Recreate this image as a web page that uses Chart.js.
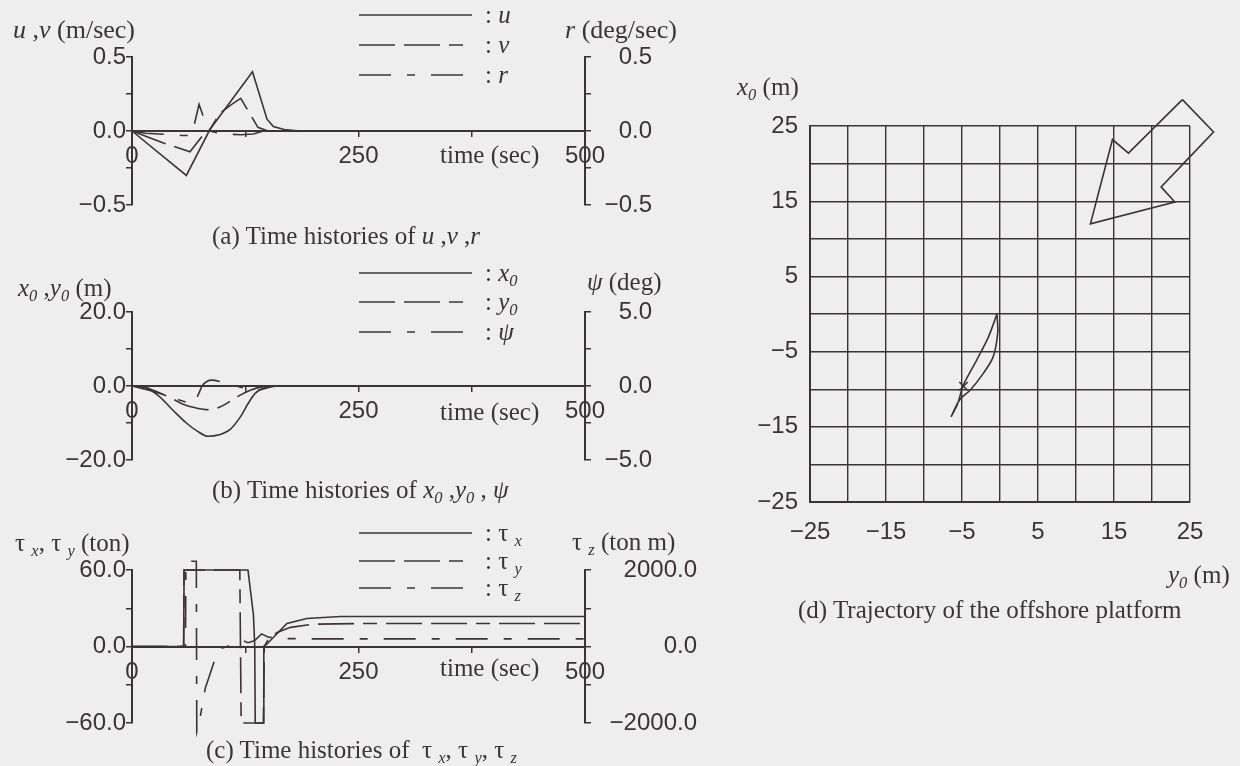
<!DOCTYPE html>
<html>
<head>
<meta charset="utf-8">
<script src="https://cdn.jsdelivr.net/npm/chart.js@4.4.1/dist/chart.umd.min.js"></script>
<style>
  html, body { margin: 0; padding: 0; background: #eeeeee; }
  body { width: 1240px; height: 766px; position: relative; overflow: hidden;
         font-family: "Liberation Serif", serif; color: #3b3437; }
  canvas { position: absolute; left: 0; }
  .t { position: absolute; white-space: nowrap; font-size: 25px; line-height: 1; }
  .t sub { font-size: 66%; vertical-align: -0.28em; line-height: 0; }
</style>
</head>
<body>
<canvas id="chartA" width="720" height="250" style="top:0"></canvas>
<canvas id="chartB" width="720" height="255" style="top:250px"></canvas>
<canvas id="chartC" width="720" height="261" style="top:505px"></canvas>
<canvas id="chartD" width="520" height="766" style="left:720px;top:0"></canvas>

<!-- (a) -->
<div class="t" style="left:13px;top:17px;font-size:26px"><i>u</i> ,<i>v</i> (m/sec)</div>
<div class="t" style="left:565px;top:17px;font-size:26px"><i>r</i> (deg/sec)</div>
<div class="t" style="left:485px;top:2px">: <i>u</i></div>
<div class="t" style="left:485px;top:32px">: <i>v</i></div>
<div class="t" style="left:485px;top:62px">: <i>r</i></div>
<div class="t" style="left:440px;top:142px">time (sec)</div>
<div class="t" style="left:212px;top:223px">(a) Time histories of <i>u</i> ,<i>v</i> ,<i>r</i></div>

<!-- (b) -->
<div class="t" style="left:18px;top:275px"><i>x<sub>0</sub></i> ,<i>y<sub>0</sub></i> (m)</div>
<div class="t" style="left:587px;top:269px"><i>ψ</i> (deg)</div>
<div class="t" style="left:485px;top:260px">: <i>x<sub>0</sub></i></div>
<div class="t" style="left:485px;top:289px">: <i>y<sub>0</sub></i></div>
<div class="t" style="left:485px;top:319px">: <i>ψ</i></div>
<div class="t" style="left:440px;top:399px">time (sec)</div>
<div class="t" style="left:212px;top:477px">(b) Time histories of <i>x<sub>0</sub></i> ,<i>y<sub>0</sub></i> , <i>ψ</i></div>

<!-- (c) -->
<div class="t" style="left:15px;top:530px">τ <sub><i>x</i></sub>, τ <sub><i>y</i></sub> (ton)</div>
<div class="t" style="left:572px;top:529px">τ <sub><i>z</i></sub> (ton m)</div>
<div class="t" style="left:485px;top:520px">: τ <sub><i>x</i></sub></div>
<div class="t" style="left:485px;top:548px">: τ <sub><i>y</i></sub></div>
<div class="t" style="left:485px;top:575px">: τ <sub><i>z</i></sub></div>
<div class="t" style="left:440px;top:655px">time (sec)</div>
<div class="t" style="left:206px;top:737px">(c) Time histories of&nbsp; τ <sub><i>x</i></sub>, τ <sub><i>y</i></sub>, τ <sub><i>z</i></sub></div>

<!-- (d) -->
<div class="t" style="left:737px;top:74px"><i>x<sub>0</sub></i> (m)</div>
<div class="t" style="left:1168px;top:562px"><i>y<sub>0</sub></i> (m)</div>
<div class="t" style="left:798px;top:597px">(d) Trajectory of the offshore platform</div>

<script>
// time histories: [time (sec), value]
const uSeries   = [[0,0],[60,-0.30],[86,0.01],[133,0.40],[149,0.08],[156,0.03],[168,0.01],[185,0],[500,0]];
const vSeries   = [[0,0],[34,-0.08],[64,-0.14],[78,-0.03],[86,0.01],[97,0.12],[110,0.18],[120,0.22],[139,0.025],[150,0],[500,0]];
const rSeries   = [[0,0],[15,-0.015],[30,-0.02],[55,-0.03],[66,-0.03],[74,0.18],[78,0.11],[86,0],[100,-0.02],[120,-0.025],[134,-0.02],[145,0],[500,0]];

const x0Series  = [[0,0],[15,-0.5],[30,-2.8],[45,-6.5],[60,-10],[72,-12.2],[84,-13.6],[96,-13.2],[108,-11.8],[120,-8.2],[128,-4.8],[136,-2.0],[146,-0.5],[160,0],[500,0]];
const y0Series  = [[0,0],[15,-0.4],[30,-1.8],[45,-3.5],[57,-5.0],[70,-5.9],[84,-6.4],[97,-5.7],[108,-4.2],[120,-2.4],[130,-1.2],[142,-0.3],[160,0],[500,0]];
const psiSeries = [[0,0],[20,-0.3],[36,-0.6],[55,-1.0],[68,-1.2],[73,-0.6],[78,0.05],[88,0.4],[100,0.25],[112,0.05],[124,-0.15],[134,-0.35],[145,-0.2],[160,0],[500,0]];

const tauXSeries = [[0,0],[57,0],[57.5,60],[128,60],[134,25],[135.5,0],[136,-60],[145,-60],[145.5,0],[149,2],[160,10],[171,18],[193,22],[230,23.5],[500,23.5]];
const tauYSeries = [[0,0],[57,0],[57.5,60],[119,60],[120.5,-60],[145,-60],[146,0],[150,5],[160,11],[175,15],[200,17.5],[250,18],[500,18]];
const tauZSeries = [[0,0],[59,0],[59.5,2230],[71,2230],[71.5,-2230],[73,-2100],[75,-1880],[81,-1080],[86,-730],[92,-300],[97,-60],[105,0],[115,80],[122,160],[128,100],[135,150],[143,330],[150,250],[160,210],[200,200],[500,200]];

// trajectory: [y0 (m), x0 (m)]
const trackPath = [[-0.4,0],[-0.3,-2.5],[-0.9,-5.7],[-2.2,-7.9],[-3.9,-10.1],[-5.3,-11.4],[-6.4,-13.6],[-5.6,-12.0],[-4.8,-9.4],[-3.0,-6.0],[-1.5,-3.0],[-0.4,0]];
const finalMark = [[-4.8,-9.6]];
const platformOutline = [[24.0,28.5],[28.1,24.2],[24.6,20.5],[21.2,16.9],[23.0,14.9],[11.9,12.0],[14.8,23.2],[16.9,21.4],[24.0,28.5]];

const timeTicks = [0, 250, 500];
const trajTicks = [-25, -15, -5, 5, 15, 25];

const INK = '#3b3437';
const SANS = { family: 'Liberation Sans', size: 24 };
const DASH_V = [36, 9, 36, 9, 14, 9];
const DASH_R = [32, 16, 8, 16];

const pts = arr => arr.map(([x, y]) => ({ x, y }));
const num = (v, d) => (v < 0 ? '\u2212' : '') + Math.abs(v).toFixed(d);

// legend line samples next to the html labels
const legendSamples = {
  id: 'legendSamples',
  afterDraw(chart, args, opts) {
    const ctx = chart.ctx;
    ctx.save();
    ctx.strokeStyle = INK;
    ctx.lineWidth = 1.6;
    opts.rows.forEach(row => {
      ctx.setLineDash(row.dash);
      ctx.beginPath();
      ctx.moveTo(359, row.y);
      ctx.lineTo(472, row.y);
      ctx.stroke();
    });
    ctx.restore();
  }
};

function line(series, dash, axis, smooth) {
  return {
    data: pts(series),
    yAxisID: axis,
    showLine: true,
    borderColor: INK,
    borderWidth: 1.6,
    borderDash: dash,
    pointRadius: 0,
    clip: false,
    tension: 0,
    cubicInterpolationMode: smooth ? 'monotone' : 'default'
  };
}

// plot area spans x 132..585 on every time-history canvas;
// the right scale box ends where its labels are right-aligned
function timeChart(id, o) {
  const tickOpts = { font: SANS, color: INK, autoSkip: false };
  return new Chart(document.getElementById(id), {
    type: 'scatter',
    data: { datasets: o.datasets },
    options: {
      responsive: false,
      animation: false,
      layout: { padding: { left: 0, right: 135 - o.rightW, top: o.top, bottom: o.bottom }, autoPadding: false },
      plugins: {
        legend: { display: false },
        tooltip: { enabled: false },
        legendSamples: { rows: o.legendRows }
      },
      scales: {
        x: {
          type: 'linear', min: 0, max: 500,
          position: { y: 0 },
          ticks: { ...tickOpts, stepSize: 125, padding: 6,
                   callback: v => timeTicks.includes(v) ? String(v) : '' },
          grid: { drawOnChartArea: false, tickLength: 5, color: INK, lineWidth: 1.5 },
          border: { color: INK, width: 2 }
        },
        y: {
          position: 'left', min: -o.left, max: o.left,
          ticks: { ...tickOpts, stepSize: o.left / 2, padding: 0,
                   callback: v => (v === 0 || Math.abs(v) === o.left) ? num(v, 1) : '' },
          grid: { drawOnChartArea: false, tickLength: 6, color: INK, lineWidth: 1.5 },
          border: { color: INK, width: 2 },
          afterFit: s => { s.width = 132; }
        },
        y1: {
          position: 'right', min: -o.right, max: o.right,
          ticks: { ...tickOpts, stepSize: o.right / 2, padding: 10, crossAlign: 'far',
                   callback: v => (v === 0 || Math.abs(v) === o.right) ? num(v, 1) : '' },
          grid: { drawOnChartArea: false, tickLength: 6, color: INK, lineWidth: 1.5 },
          border: { color: INK, width: 2 },
          afterFit: s => { s.width = o.rightW; }
        }
      }
    },
    plugins: [legendSamples]
  });
}

timeChart('chartA', {
  top: 57, bottom: 45, left: 0.5, right: 0.5, rightW: 67,
  legendRows: [{ y: 15, dash: [] }, { y: 45, dash: DASH_V }, { y: 75, dash: DASH_R }],
  datasets: [line(uSeries, [], 'y'), line(vSeries, DASH_V, 'y'), line(rSeries, DASH_R, 'y1')]
});

timeChart('chartB', {
  top: 62, bottom: 45, left: 20, right: 5, rightW: 67,
  legendRows: [{ y: 23, dash: [] }, { y: 52, dash: DASH_V }, { y: 82, dash: DASH_R }],
  datasets: [line(x0Series, [], 'y', true), line(y0Series, DASH_V, 'y', true), line(psiSeries, DASH_R, 'y1', true)]
});

timeChart('chartC', {
  top: 65, bottom: 43, left: 60, right: 2000, rightW: 112,
  legendRows: [{ y: 28, dash: [] }, { y: 56, dash: DASH_V }, { y: 83, dash: DASH_R }],
  datasets: [line(tauXSeries, [], 'y'), line(tauYSeries, DASH_V, 'y'), line(tauZSeries, DASH_R, 'y1')]
});

// trajectory plane: y0 horizontal, x0 vertical
const gridScale = {
  type: 'linear', min: -25, max: 25,
  ticks: { stepSize: 5, font: SANS, color: INK, autoSkip: false, maxRotation: 0,
           callback: v => trajTicks.includes(v) ? num(v, 0) : '' },
  grid: { color: INK, lineWidth: 1.4, drawTicks: false },
  border: { color: INK, width: 2 }
};

new Chart(document.getElementById('chartD'), {
  type: 'scatter',
  data: {
    datasets: [
      { data: pts(platformOutline), showLine: true, clip: false, borderColor: INK, borderWidth: 1.6, pointRadius: 0, tension: 0 },
      { data: pts(trackPath), showLine: true, clip: false, borderColor: INK, borderWidth: 1.6, pointRadius: 0, tension: 0.3 },
      { data: pts(finalMark), pointStyle: 'crossRot', pointRadius: 6, borderColor: INK, borderWidth: 1.5 }
    ]
  },
  options: {
    responsive: false,
    animation: false,
    layout: { padding: { left: 0, right: 50, top: 126, bottom: 0 }, autoPadding: false },
    plugins: { legend: { display: false }, tooltip: { enabled: false } },
    scales: {
      x: { ...gridScale, position: 'bottom', ticks: { ...gridScale.ticks, padding: 16 }, afterFit: s => { s.height = 264; } },
      y: { ...gridScale, position: 'left', ticks: { ...gridScale.ticks, padding: 12 }, afterFit: s => { s.width = 90; } }
    }
  }
});
</script>
</body>
</html>
